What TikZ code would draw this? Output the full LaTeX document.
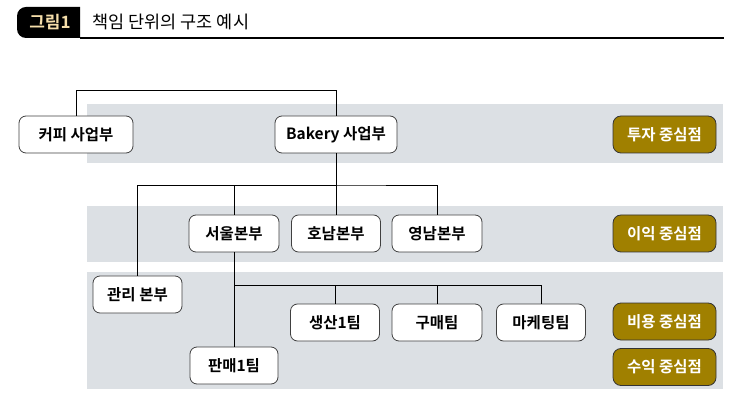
\documentclass[tikz,border=0pt]{standalone}
\usepackage{fontspec}
\setmainfont{Noto Sans CJK KR}[BoldFont={Noto Sans CJK KR Bold}]
\usepackage{tikz}
\usetikzlibrary{positioning}

\definecolor{bandgray}{RGB}{220,224,228}
\definecolor{centergold}{RGB}{160,128,0}
\definecolor{tagtan}{RGB}{245,222,170}

\begin{document}
\begin{tikzpicture}[x=1pt, y=-1pt,
    unit/.style={draw=black!75, line width=0.8pt, fill=white, rounded corners=7pt,
        minimum height=37pt, inner sep=0pt, font=\fontsize{15.5}{17}\selectfont\bfseries},
    center/.style={draw=black!80, line width=0.8pt, fill=centergold, text=white, rounded corners=8pt,
        minimum width=103pt, minimum height=37pt, inner sep=0pt, font=\fontsize{15.5}{17}\selectfont\bfseries},
    link/.style={line width=0.9pt, black}]
            \useasboundingbox (0,0) rectangle (754,419);

            % Title
            \fill[black] (80,38) [rounded corners=9pt] -- (17,38) -- (17,7) [sharp corners] -- (80,7) -- cycle;
            \node[text=tagtan, font=\fontsize{17}{19}\selectfont\bfseries] (tag) at (50,22.5) {그림1};
            \node[anchor=west, font=\fontsize{17.5}{19}\selectfont] (title) at (89,22) {책임 단위의 구조 예시};
            \draw[line width=1.2pt] (80,38) -- (724,38);

            % Bands
            \fill[bandgray] (87,104) rectangle (723,163);
            \fill[bandgray] (87,206) rectangle (723,262);
            \fill[bandgray] (87,272) rectangle (723,389);

            % Connectors
            \coordinate (top) at (336,90);
            \coordinate (hq) at (336,185);
            \coordinate (sw) at (234,285);

            % Units
            \node[unit, minimum width=114pt] (coffee) at (76,134.5) {커피 사업부};
            \node[unit, minimum width=122pt] (bakery) at (336,134.5) {Bakery 사업부};
            \node[unit, minimum width=90pt] (seoul) at (234,233.5) {서울본부};
            \node[unit, minimum width=89pt] (honam) at (336,233.5) {호남본부};
            \node[unit, minimum width=90pt] (yeongnam) at (437,233.5) {영남본부};
            \node[unit, minimum width=89pt] (gwanri) at (137.5,294.5) {관리 본부};
            \node[unit, minimum width=89pt] (saengsan) at (335,322.5) {생산1팀};
            \node[unit, minimum width=90pt] (gumae) at (437,322.5) {구매팀};
            \node[unit, minimum width=89pt] (marketing) at (541,322.5) {마케팅팀};
            \node[unit, minimum width=88pt] (panmae) at (234,365.5) {판매1팀};

            \draw[link] (coffee.north) |- (top) -- (bakery.north);
            \draw[link] (bakery.south) -- (hq);
            \draw[link] (gwanri.north) |- (hq) -| (yeongnam.north);
            \draw[link] (hq) -| (seoul.north);
            \draw[link] (hq) -- (honam.north);
            \draw[link] (seoul.south) -- (panmae.north);
            \draw[link] (sw) -| (marketing.north);
            \draw[link] (sw) -| (saengsan.north);
            \draw[link] (sw) -| (gumae.north);

            % Responsibility centers
            \node[center] (invest) at (664.5,134.5) {투자 중심점};
            \node[center] (profit) at (664.5,233.5) {이익 중심점};
            \node[center] (cost) at (664.5,321.5) {비용 중심점};
            \node[center] (revenue) at (664.5,367) {수익 중심점};
\end{tikzpicture}
\end{document}
